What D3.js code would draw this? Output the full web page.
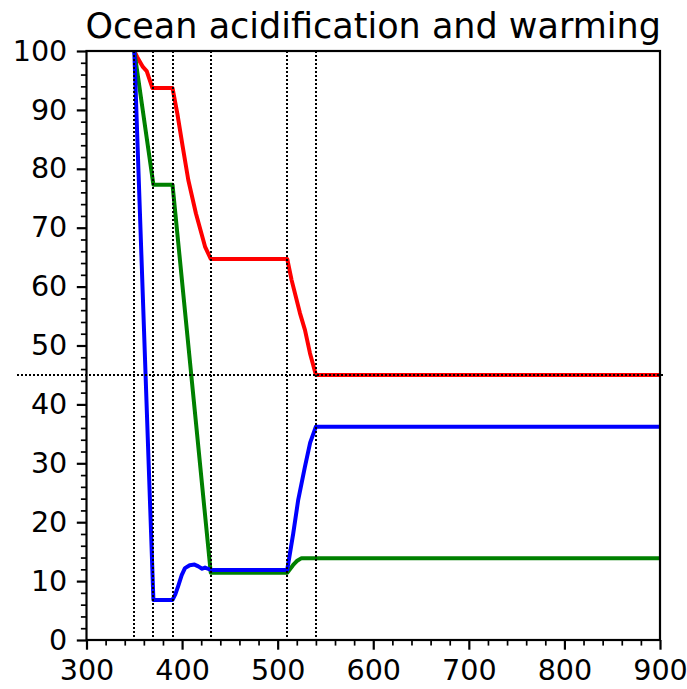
<!DOCTYPE html>
<html>
<head>
<meta charset="utf-8">
<script src="https://cdn.jsdelivr.net/npm/d3@7/dist/d3.min.js"></script>
<style>
  html, body { margin: 0; padding: 0; background: #fff; }
  svg { display: block; font-family: "DejaVu Sans", sans-serif; }
</style>
</head>
<body>
<svg id="chart" width="687" height="689"></svg>
<script>
// Series: each is a list of [x, value] points
const redSeries = [
  [350, 100], [353, 99.0], [359, 97.3], [363, 96.6], [369, 93.7], [390, 93.7],
  [395, 89.4], [400.6, 83.8], [406.5, 78.1], [414.5, 72.4], [424, 66.8], [430, 64.7],
  [510, 64.7], [514.6, 61.1], [523.3, 55.5], [528.6, 52.6], [533.8, 48.7], [540, 45.0],
  [900, 45.0]
];
const greenSeries = [
  [350, 100], [370, 77.3], [390, 77.3], [430, 11.4], [510, 11.4],
  [516, 12.7], [520, 13.4], [525, 13.9], [900, 13.9]
];
const blueSeries = [
  [350, 100], [370, 6.8], [390, 6.8], [393, 7.8], [396, 9.2], [399.6, 11.0],
  [403, 12.2], [408, 12.7], [413, 12.8], [417, 12.5], [421, 12.1], [424, 12.3],
  [427, 12.1], [430, 11.9], [510, 11.9], [516.3, 18.1], [521.5, 23.8],
  [528.5, 29.4], [534, 33.5], [540, 36.2], [900, 36.2]
];
const seriesColors = ["#ff0000", "#008000", "#0000ff"];

// Reference markers
const stageX = [350, 370, 390, 430, 510, 540];
const thresholdY = 45;
const thresholdSpan = [227, 903];

// Axis ticks
const xTicks = [300, 400, 500, 600, 700, 800, 900];
const yTicks = [0, 10, 20, 30, 40, 50, 60, 70, 80, 90, 100];
const xMinor = d3.range(300, 901, 20);
const yMinor = d3.range(0, 101, 2);

const chartTitle = "Ocean acidification and warming";

const svg = d3.select("#chart");
const plotLeft = 86.5, plotRight = 660, plotTop = 51, plotBottom = 640;

const x = d3.scaleLinear().domain([300, 900]).range([plotLeft, plotRight]);
const y = d3.scaleLinear().domain([0, 100]).range([plotBottom, plotTop]);

svg.append("defs").append("clipPath").attr("id", "plotClip")
  .append("rect").attr("x", plotLeft).attr("y", plotTop)
  .attr("width", plotRight - plotLeft).attr("height", plotBottom - plotTop);

const line = d3.line().x(d => x(d[0])).y(d => y(d[1]));

const plot = svg.append("g").attr("clip-path", "url(#plotClip)");
[redSeries, greenSeries, blueSeries].forEach((s, i) => {
  plot.append("path")
    .attr("d", line(s))
    .attr("fill", "none")
    .attr("stroke", seriesColors[i])
    .attr("stroke-width", 4)
    .attr("stroke-linejoin", "round")
    .attr("stroke-linecap", "butt");
});

// Dotted stage markers
const dots = svg.append("g")
  .attr("stroke", "#000")
  .attr("stroke-width", 2.2)
  .attr("stroke-dasharray", "2,2")
  .attr("shape-rendering", "crispEdges");
stageX.forEach(v => {
  const px = Math.round(x(v));
  dots.append("line")
    .attr("x1", px).attr("x2", px)
    .attr("y1", y(100)).attr("y2", y(0));
});
const hy = Math.round(y(thresholdY));
dots.append("line")
  .attr("x1", x(thresholdSpan[0])).attr("x2", x(thresholdSpan[1]))
  .attr("y1", hy).attr("y2", hy);

// Axes
const fontSize = 28.6;
const xAxis = d3.axisBottom(x).tickValues(xTicks).tickSize(9.7).tickPadding(9.5).tickFormat(d3.format("d"));
const yAxis = d3.axisLeft(y).tickValues(yTicks).tickSize(9.7).tickPadding(9.5).tickFormat(d3.format("d"));
const xMinorAxis = d3.axisBottom(x).tickValues(xMinor.filter(v => v % 100 !== 0)).tickSize(5.6).tickFormat("");
const yMinorAxis = d3.axisLeft(y).tickValues(yMinor.filter(v => v % 10 !== 0)).tickSize(5.6).tickFormat("");

function styleAxis(g, w) {
  g.select(".domain").remove();
  g.selectAll(".tick line").attr("stroke", "#000").attr("stroke-width", w);
  g.selectAll(".tick text").attr("fill", "#000")
    .style("font-size", fontSize + "px")
    .style("font-family", "'DejaVu Sans', sans-serif");
}

svg.append("g").attr("transform", `translate(0,${plotBottom})`).call(xMinorAxis).call(g => styleAxis(g, 1.7));
svg.append("g").attr("transform", `translate(${plotLeft},0)`).call(yMinorAxis).call(g => styleAxis(g, 1.7));
svg.append("g").attr("transform", `translate(0,${plotBottom})`).call(xAxis).call(g => styleAxis(g, 2.2));
svg.append("g").attr("transform", `translate(${plotLeft},0)`).call(yAxis).call(g => styleAxis(g, 2.2));

// Frame
svg.append("rect")
  .attr("x", plotLeft).attr("y", plotTop)
  .attr("width", plotRight - plotLeft).attr("height", plotBottom - plotTop)
  .attr("fill", "none").attr("stroke", "#000").attr("stroke-width", 2.2);

// Title
svg.append("text")
  .attr("x", (plotLeft + plotRight) / 2)
  .attr("y", 38)
  .attr("text-anchor", "middle")
  .style("font-size", "35px")
  .attr("fill", "#000")
  .text(chartTitle);
</script>
</body>
</html>
